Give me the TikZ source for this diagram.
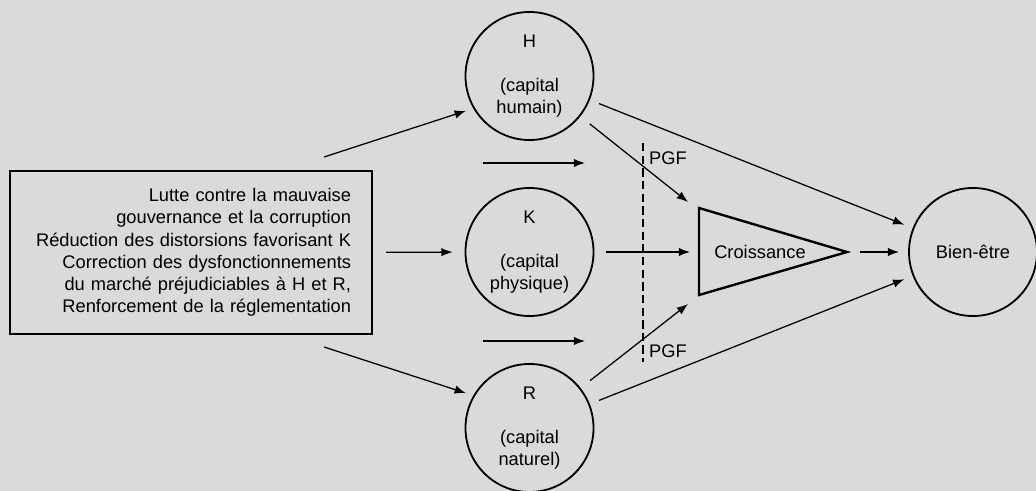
\documentclass[tikz,border=0pt]{standalone}
\usepackage{fontspec}
\setmainfont{Liberation Sans}
\usetikzlibrary{arrows.meta, positioning, calc}
\definecolor{paper}{RGB}{218, 218, 218}

\begin{document}
\begin{tikzpicture}[
    x=0.025cm, y=-0.025cm,
    font=\fontsize{13}{15.8}\selectfont,
    capital/.style={
        circle, draw=black, line width=1.3pt,
        minimum size=3.2cm, inner sep=0pt, align=center
    },
    policy/.style={
        rectangle, draw=black, line width=1.7pt,
        text width=8cm, inner xsep=0.525cm,
        minimum height=4.075cm, align=right
    },
    arrow/.style={
        -{Latex[length=8pt, width=6pt]}, line width=0.9pt
    },
    pgfline/.style={
        dash pattern=on 6pt off 3pt, line width=1.2pt
    }
]

% Background
\fill[paper] (0,0) rectangle (1036,491);
\useasboundingbox (0,0) rectangle (1036,491);

% Main components
\node[policy] (policy) at (191,252.5) {Lutte contre la mauvaise\\gouvernance et la corruption\\Réduction des distorsions favorisant K\\Correction des dysfonctionnements\\du marché préjudiciables à H et R,\\Renforcement de la réglementation};
\node[capital] (H) at (529.5,76) {H\\[15.8pt](capital\\humain)};
\node[capital] (K) at (529.5,252) {K\\[15.8pt](capital\\physique)};
\node[capital] (R) at (529.5,428) {R\\[15.8pt](capital\\naturel)};
\node[capital] (wb) at (973,252) {Bien-être};

% Growth triangle
\coordinate (gtop) at (699,208);
\coordinate (gbot) at (699,295);
\coordinate (gtip) at (847,252);
\draw[line width=1.7pt] (gtop) -- (gtip) -- (gbot) -- cycle;
\node (growth) at (760,252) {Croissance};

% PGF line
\coordinate (pgftop) at (643,143);
\coordinate (pgfbot) at (643,362);
\draw[pgfline] (pgftop) -- (pgfbot);
\node (pgf1) at (668,158) {PGF};
\node (pgf2) at (668,351) {PGF};

% Free ends
\coordinate (ph) at (324,157);
\coordinate (pr) at (324,347);
\coordinate (ghin) at (688,202);
\coordinate (gkin) at (690,252);
\coordinate (grin) at (688,304);
\coordinate (up1) at (483,163);
\coordinate (up2) at (585,163);
\coordinate (lo1) at (483,341);
\coordinate (lo2) at (585,341);

% Arrows
\draw[arrow, shorten >=5.5pt] (ph) -- (H.210);
\draw[arrow, shorten <=9.2pt, shorten >=8.5pt] (policy) -- (K);
\draw[arrow, shorten >=5.5pt] (pr) -- (R.150);
\draw[arrow] (up1) -- (up2);
\draw[arrow] (lo1) -- (lo2);
\draw[arrow, shorten <=8.5pt] (H) -- (ghin);
\draw[arrow, shorten <=8.5pt] (K) -- (gkin);
\draw[arrow, shorten <=8.5pt] (R) -- (grin);
\draw[arrow, shorten <=7pt, shorten >=6.4pt] (H) -- (wb);
\draw[arrow, shorten <=7pt, shorten >=6.4pt] (R) -- (wb);
\draw[arrow, shorten <=9.2pt, shorten >=6.4pt] (gtip) -- (wb);

\end{tikzpicture}
\end{document}
